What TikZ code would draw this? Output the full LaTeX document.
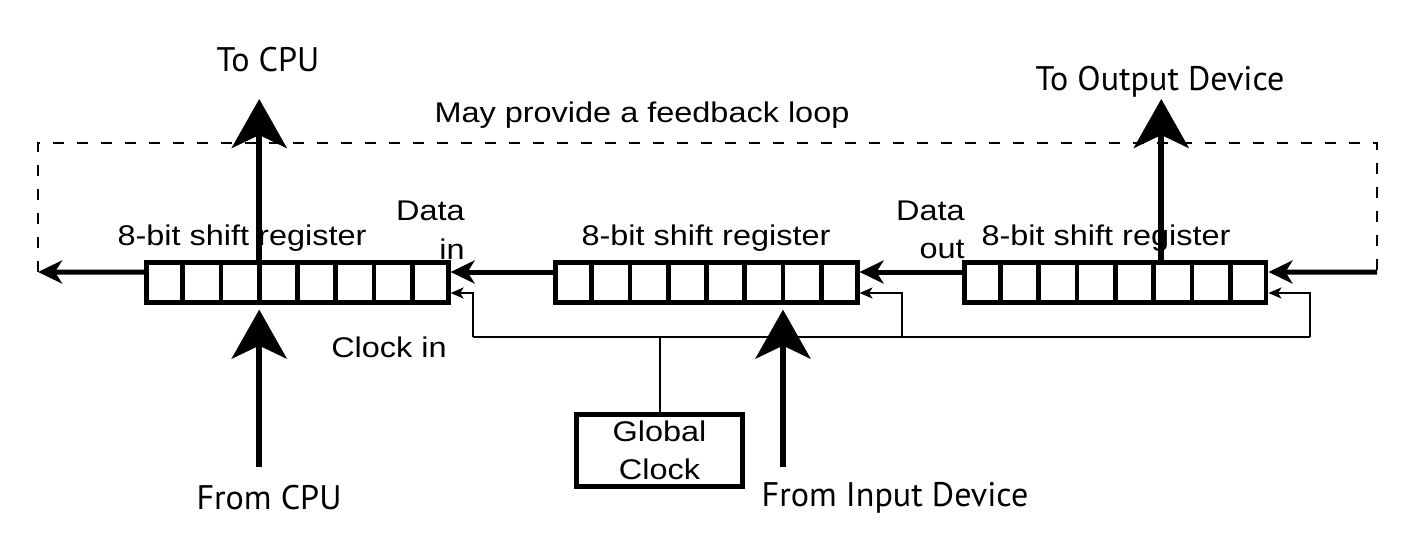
\documentclass[tikz,border=0pt]{standalone}
\usepackage{fontspec}
\setmainfont[FakeStretch=1.14]{Liberation Sans}
\newfontfamily\labelfont{PT Sans}
\usepackage{tikz}
\usetikzlibrary{shapes,arrows,arrows.meta,positioning,calc}
\tikzset{
reg/.style = {draw, rectangle split, rectangle split horizontal, rectangle split parts=8, line width=0.095cm, inner sep=0pt, rectangle split empty part width=0.485cm, rectangle split empty part height=0.395cm, rectangle split empty part depth=0.395cm},
clockbox/.style = {draw, rectangle, line width=0.1cm, minimum width=3.32cm, minimum height=1.44cm, align=center, inner sep=0pt, font=\fontsize{16.2}{21.6}\selectfont},
txt/.style = {font=\fontsize{16.2}{22}\selectfont, inner sep=0pt},
iotxt/.style = {font=\labelfont\fontsize{19.4}{22}\selectfont, inner sep=0pt},
bus/.style = {line width=0.1cm, -{Stealth[length=0.48cm,width=0.46cm,inset=0.14cm]}},
io/.style = {line width=0.12cm, -{Stealth[length=0.98cm,width=1.1cm,inset=0.26cm]}},
clk/.style = {line width=0.04cm, -{Stealth[length=0.26cm,width=0.22cm,inset=0.07cm]}},
wire/.style = {line width=0.04cm},
fbloop/.style = {line width=0.04cm, dash pattern=on 0.22cm off 0.26cm}
}
\begin{document}
\begin{tikzpicture}[x=0.02cm, y=-0.02cm, node distance=8.18cm]
    \useasboundingbox (0,0) rectangle (1408,544);
    \node [reg, name=r1] at (297.5,282.5) {};
    \node [reg, right of = r1] (r2) {};
    \node [reg, right of = r2] (r3) {};

    \node [txt, anchor=base] (name1) at (242,245) {8-bit shift register};
    \node [txt, anchor=base] (name2) at (706,245) {8-bit shift register};
    \node [txt, anchor=base] (name3) at (1106,245) {8-bit shift register};
    \node [txt, align=right, anchor=east] (datain) at (465,230) {Data\\in};
    \node [txt, align=right, anchor=east] (dataout) at (965,230) {Data\\out};
    \node [txt] (clockin) at (389,347) {Clock in};
    \node [txt] (fbnote) at (642,115) {May provide a feedback loop};
    \node [clockbox] (gclk) at (659.5,450.5) {Global\\Clock};

    \node [iotxt] (tocpu) at (268,60) {To CPU};
    \node [iotxt] (tooutput) at (1160,82) {To Output Device};
    \node [iotxt] (fromcpu) at (269,498) {From CPU};
    \node [iotxt] (frominput) at (895,498) {From Input Device};

    \coordinate (cpuup) at ($(r1.north west)!0.375!(r1.north east)$);
    \coordinate (cpudn) at ($(r1.south west)!0.375!(r1.south east)$);
    \coordinate (outup) at ($(r3.north west)!0.65!(r3.north east)$);
    \coordinate (indn) at ($(r2.south west)!0.75!(r2.south east)$);
    \coordinate (uptip) at (0,99);
    \coordinate (dnend) at (0,467);

    \coordinate (fbL) at (38,272);
    \coordinate (fbR) at (1377,272);
    \coordinate (fbT) at (700,143);
    \coordinate (ck1) at (473,337);
    \coordinate (ck2) at (902,337);
    \coordinate (ck3) at (1310,337);

    \draw [fbloop] (fbL) |- (fbT) -| (fbR);
    \draw [bus] (fbR) -- ([yshift=0.21cm]r3.east);
    \draw [bus] ([yshift=0.21cm]r3.west) -- ([yshift=0.21cm]r2.east);
    \draw [bus] ([yshift=0.21cm]r2.west) -- ([yshift=0.21cm]r1.east);
    \draw [bus] ([yshift=0.21cm]r1.west) -- (fbL);

    \draw [wire] (ck1) -- (ck3);
    \draw [wire] (gclk.north) -- (gclk.north |- ck1);
    \draw [clk] (ck1) |- ([yshift=-0.21cm]r1.east);
    \draw [clk] (ck2) |- ([yshift=-0.21cm]r2.east);
    \draw [clk] (ck3) |- ([yshift=-0.21cm]r3.east);

    \draw [io] (cpuup) -- (cpuup |- uptip);
    \draw [io] (outup) -- (outup |- uptip);
    \draw [io] (cpudn |- dnend) -- ([yshift=-0.1cm]cpudn);
    \draw [io] (indn |- dnend) -- ([yshift=-0.1cm]indn);
\end{tikzpicture}
\end{document}
